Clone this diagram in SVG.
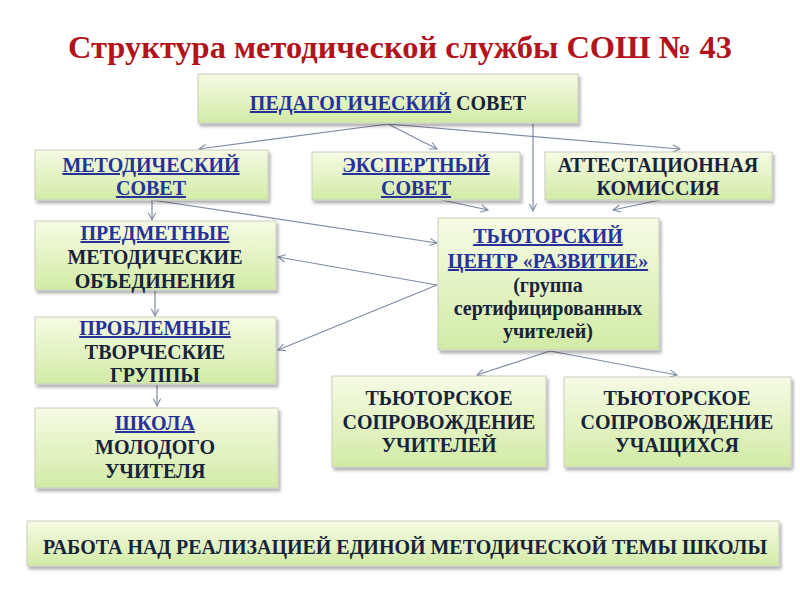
<svg xmlns="http://www.w3.org/2000/svg" width="800" height="600" viewBox="0 0 800 600">
<defs>
<linearGradient id="g" x1="0" y1="0" x2="0" y2="1">
<stop offset="0" stop-color="#f6fbe4"/>
<stop offset="1" stop-color="#d2eba6"/>
</linearGradient>
<filter id="sh" x="-5%" y="-10%" width="115%" height="130%">
<feDropShadow dx="2" dy="3" stdDeviation="1.5" flood-color="#000" flood-opacity="0.3"/>
</filter>
<marker id="ar" viewBox="0 0 10 10" refX="9" refY="5" markerWidth="9" markerHeight="9" orient="auto" markerUnits="userSpaceOnUse">
<path d="M1,1 L9,5 L1,9" fill="none" stroke="#7d8ba3" stroke-width="1.2"/>
</marker>
<style>
.box{fill:url(#g);stroke:#c9cdc0;stroke-width:1;filter:url(#sh)}
.t{font-family:'Liberation Serif','DejaVu Serif',serif;font-weight:bold;font-size:20px;fill:#17233b;text-anchor:middle}
.u{fill:#26319a;text-decoration:underline}
.c line{stroke:#7d8ba3;stroke-width:1.2;marker-end:url(#ar)}
</style>
</defs>
<rect width="800" height="600" fill="#fff"/>
<text x="400" y="58" font-family="Liberation Serif, DejaVu Serif, serif" font-weight="bold" font-size="32" fill="#b3141c" text-anchor="middle" textLength="664" lengthAdjust="spacingAndGlyphs">Структура методической службы СОШ № 43</text>

<g class="c">
<line x1="388" y1="124" x2="199" y2="149"/>
<line x1="388" y1="124" x2="437" y2="149"/>
<line x1="388" y1="124" x2="680" y2="149"/>
<line x1="533" y1="124" x2="533" y2="211"/>
<line x1="442" y1="200" x2="488" y2="210"/>
<line x1="660" y1="200" x2="613" y2="210"/>
<line x1="152" y1="200" x2="152" y2="220"/>
<line x1="152" y1="200" x2="437" y2="243"/>
<line x1="437" y1="285" x2="278" y2="257"/>
<line x1="437" y1="285" x2="278" y2="350"/>
<line x1="155" y1="291" x2="155" y2="316"/>
<line x1="157" y1="385" x2="157" y2="406"/>
<line x1="550" y1="351" x2="477" y2="375"/>
<line x1="550" y1="351" x2="677" y2="375"/>
</g>

<g id="ped"><rect class="box" x="198" y="74" width="380" height="49"/>
<text class="t" x="388" y="110"><tspan class="u">ПЕДАГОГИЧЕСКИЙ</tspan> СОВЕТ</text></g>

<g id="metod"><rect class="box" x="35" y="150" width="233" height="50"/>
<text class="t" x="151" y="172"><tspan class="u">МЕТОДИЧЕСКИЙ</tspan></text>
<text class="t" x="151" y="195"><tspan class="u">СОВЕТ</tspan></text></g>

<g id="expert"><rect class="box" x="312" y="152" width="208" height="48"/>
<text class="t" x="416" y="172"><tspan class="u">ЭКСПЕРТНЫЙ</tspan></text>
<text class="t" x="416" y="195"><tspan class="u">СОВЕТ</tspan></text></g>

<g id="attest"><rect class="box" x="545" y="152" width="227" height="48"/>
<text class="t" x="658" y="172">АТТЕСТАЦИОННАЯ</text>
<text class="t" x="658" y="195">КОМИССИЯ</text></g>

<g id="predmet"><rect class="box" x="35" y="221" width="241" height="69"/>
<text class="t" x="155" y="240"><tspan class="u">ПРЕДМЕТНЫЕ</tspan></text>
<text class="t" x="155" y="264">МЕТОДИЧЕСКИЕ</text>
<text class="t" x="155" y="288">ОБЪЕДИНЕНИЯ</text></g>

<g id="tyutor"><rect class="box" x="438" y="218" width="221" height="132"/>
<text class="t" x="548" y="243"><tspan class="u">ТЬЮТОРСКИЙ</tspan></text>
<text class="t" x="548" y="268"><tspan class="u">ЦЕНТР «РАЗВИТИЕ»</tspan></text>
<text class="t" x="548" y="292">(группа</text>
<text class="t" x="548" y="315">сертифицированных</text>
<text class="t" x="548" y="338">учителей)</text></g>

<g id="problem"><rect class="box" x="35" y="317" width="241" height="67"/>
<text class="t" x="155" y="335"><tspan class="u">ПРОБЛЕМНЫЕ</tspan></text>
<text class="t" x="155" y="359">ТВОРЧЕСКИЕ</text>
<text class="t" x="155" y="382">ГРУППЫ</text></g>

<g id="shkola"><rect class="box" x="35" y="408" width="243" height="80"/>
<text class="t" x="155" y="430"><tspan class="u">ШКОЛА</tspan></text>
<text class="t" x="155" y="454">МОЛОДОГО</text>
<text class="t" x="155" y="478">УЧИТЕЛЯ</text></g>

<g id="sopr1"><rect class="box" x="332" y="376" width="214" height="91"/>
<text class="t" x="439" y="405">ТЬЮТОРСКОЕ</text>
<text class="t" x="439" y="429">СОПРОВОЖДЕНИЕ</text>
<text class="t" x="439" y="452">УЧИТЕЛЕЙ</text></g>

<g id="sopr2"><rect class="box" x="564" y="377" width="227" height="90"/>
<text class="t" x="677" y="405">ТЬЮТОРСКОЕ</text>
<text class="t" x="677" y="429">СОПРОВОЖДЕНИЕ</text>
<text class="t" x="677" y="452">УЧАЩИХСЯ</text></g>

<g id="rabota"><rect class="box" x="27" y="521" width="752" height="45"/>
<text class="t" x="405" y="554" textLength="724" lengthAdjust="spacingAndGlyphs">РАБОТА НАД РЕАЛИЗАЦИЕЙ ЕДИНОЙ МЕТОДИЧЕСКОЙ ТЕМЫ ШКОЛЫ</text></g>
</svg>
